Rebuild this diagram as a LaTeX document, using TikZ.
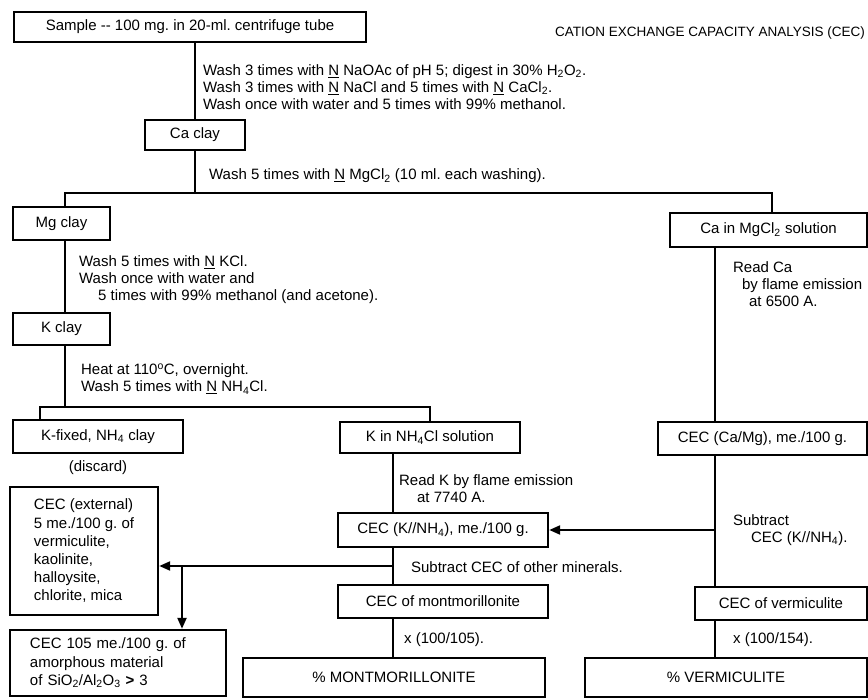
\documentclass[tikz,border=0pt]{standalone}
\usepackage{fontspec}
\setmainfont{Liberation Sans}
\usetikzlibrary{arrows.meta}

\begin{document}
\begin{tikzpicture}[x=1pt, y=-1pt, >={Triangle[length=11pt,width=9pt]},
  line width=2.2pt,
  font=\fontsize{15}{17}\selectfont,
  box/.style={draw, line width=2.4pt, inner sep=2pt, align=center},
  note/.style={anchor=west, inner sep=0pt, align=left},
  tall/.style={font=\fontsize{15}{18.2}\selectfont}]
  \useasboundingbox (0,0) rectangle (868,700);

  % Title
  \node[anchor=east, inner sep=0pt, font=\fontsize{13.5}{16}\selectfont] (title) at (866,33)
    {CATION EXCHANGE CAPACITY ANALYSIS (CEC)};

  % Sample and Ca clay
  \node[box, minimum width=352pt, minimum height=30pt] (sample) at (190,27)
    {Sample -{}- 100 mg.\ in 20-ml.\ centrifuge tube};
  \node[note] (wash1) at (202,87)
    {Wash 3 times with \underline{N} NaOAc of pH 5; digest in 30\% H\textsubscript{2}O\textsubscript{2}.\\
     Wash 3 times with \underline{N} NaCl and 5 times with \underline{N} CaCl\textsubscript{2}.\\
     Wash once with water and 5 times with 99\% methanol.};
  \node[box, minimum width=100pt, minimum height=30pt] (caclay) at (195,135) {Ca clay};
  \node[note] (wash2) at (208,176)
    {Wash 5 times with \underline{N} MgCl\textsubscript{2} (10 ml.\ each washing).};

  % Mg clay branch
  \node[box, minimum width=97pt, minimum height=33pt] (mgclay) at (61.5,223.5) {Mg clay};
  \node[note] (kwash) at (78,280)
    {Wash 5 times with \underline{N} KCl.\\
     Wash once with water and\\
     \hspace{19pt}5 times with 99\% methanol (and acetone).};
  \node[box, minimum width=97pt, minimum height=32pt] (kclay) at (61.5,329) {K clay};
  \node[note] (heat) at (80,379)
    {Heat at 110\textsuperscript{o}C, overnight.\\
     Wash 5 times with \underline{N} NH\textsubscript{4}Cl.};
  \node[box, minimum width=170pt, minimum height=33pt] (kfixed) at (98,436.5)
    {K-fixed, NH\textsubscript{4} clay};
  \node (discard) at (98,468) {(discard)};
  \node[box, minimum width=180pt, minimum height=31pt] (kinsol) at (430,437.5)
    {K in NH\textsubscript{4}Cl solution};
  \node[note] (readk) at (398,489)
    {Read K by flame emission\\ \hspace{18pt}at 7740 A.};
  \node[box, minimum width=210pt, minimum height=34pt] (ceck) at (443,530)
    {CEC (K//NH\textsubscript{4}), me./100 g.};
  \node[note] (subother) at (410,567) {Subtract CEC of other minerals.};
  \node[box, minimum width=210pt, minimum height=33pt] (cecmont) at (443,601.5)
    {CEC of montmorillonite};
  \node[note] (fmont) at (403,640) {x (100/105).};
  \node[box, minimum width=302pt, minimum height=39pt] (pmont) at (394,677.5)
    {\% MONTMORILLONITE};

  % Other minerals
  \node[box, tall, align=left, minimum width=148pt, minimum height=128pt] (cecext) at (84,551)
    {CEC (external)\\ 5 me./100 g.\ of\\ vermiculite,\\ kaolinite,\\ halloysite,\\ chlorite, mica};
  \node[box, tall, align=left, text width=176pt, minimum width=216pt, minimum height=66pt] (cecamor) at (118,663)
    {CEC 105 me./100 g.\ of\\ amorphous material\\
     of SiO\textsubscript{2}/Al\textsubscript{2}O\textsubscript{3} \textbf{>} 3};

  % Ca in MgCl2 branch
  \node[box, minimum width=197pt, minimum height=34pt] (casol) at (768.5,230)
    {Ca in MgCl\textsubscript{2} solution};
  \node[note] (readca) at (732,284)
    {Read Ca\\ \hspace{9pt}by flame emission\\ \hspace{16pt}at 6500 A.};
  \node[box, minimum width=209pt, minimum height=33pt] (cecca) at (762.5,438.5)
    {CEC (Ca/Mg), me./100 g.};
  \node[note] (subk) at (732,530)
    {Subtract\\ \hspace{18pt}CEC (K//NH\textsubscript{4}).};
  \node[box, minimum width=172pt, minimum height=33pt] (cecverm) at (781,603.5)
    {CEC of vermiculite};
  \node[note] (fverm) at (732,640) {x (100/154).};
  \node[box, minimum width=282pt, minimum height=39pt] (pverm) at (726,677.5)
    {\% VERMICULITE};

  % Junctions
  \coordinate (splitl) at (65,193);
  \coordinate (splitr) at (772,193);
  \coordinate (forkl) at (40,407);
  \coordinate (forkr) at (430,407);
  \coordinate (colk) at (393,0);
  \coordinate (colca) at (715,0);
  \coordinate (tap) at (393,566);
  \coordinate (drop) at (182,566);

  % Connectors
  \draw (sample.south -| caclay) -- (caclay.north);
  \draw (caclay.south) -- (caclay.south |- splitl);
  \draw (splitl |- mgclay.north) -- (splitl) -- (splitr) -- (splitr |- casol.north);
  \draw (splitl |- mgclay.south) -- (splitl |- kclay.north);
  \draw (splitl |- kclay.south) -- (splitl |- forkl);
  \draw (forkl |- kfixed.north) -- (forkl) -- (forkr) -- (kinsol.north);
  \draw (colk |- kinsol.south) -- (colk |- ceck.north);
  \draw (colk |- ceck.south) -- (colk |- cecmont.north);
  \draw (colk |- cecmont.south) -- (colk |- pmont.north);
  \draw[->] (tap) -- (tap -| cecext.east);
  \draw[->] (drop) -- (drop |- cecamor.north);
  \draw (colca |- casol.south) -- (colca |- cecca.north);
  \draw (colca |- cecca.south) -- (colca |- cecverm.north);
  \draw (colca |- cecverm.south) -- (colca |- pverm.north);
  \draw[->] (colca |- ceck.east) -- (ceck.east);
\end{tikzpicture}
\end{document}
